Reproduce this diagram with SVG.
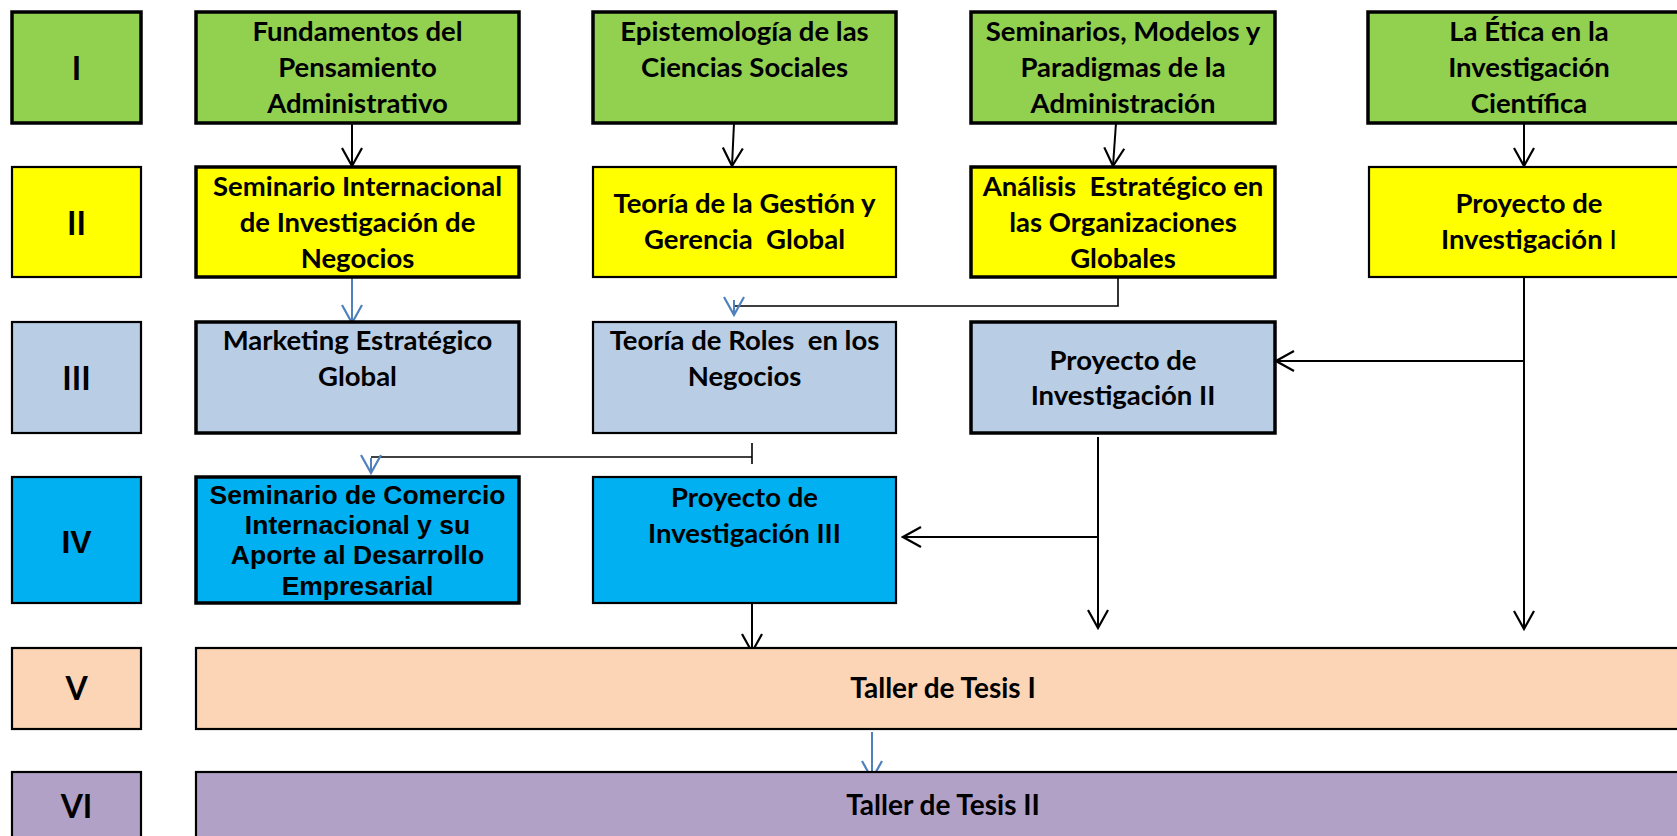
<svg xmlns="http://www.w3.org/2000/svg" width="1677" height="836" viewBox="0 0 1677 836">
<style>
  .box { stroke: #000; }
  .thick { stroke-width: 3.5; }
  .thin { stroke-width: 2.2; }
  .g1 { fill: #92D050; }
  .g2 { fill: #FFFF00; }
  .g3 { fill: #B9CDE5; }
  .g4 { fill: #00B0F0; }
  .g5 { fill: #FBD5B5; }
  .g6 { fill: #B2A1C7; }
  text { font-family: Lato, "Liberation Sans", sans-serif; font-weight: bold; fill: #000; text-anchor: middle; }
  .t { font-size: 27.5px; }
  .r { font-size: 32px; }
  .ar { font-family: "Liberation Sans", Arial, sans-serif; font-size: 26.5px; }
  .arr { font-family: "Liberation Sans", Arial, sans-serif; font-size: 32px; }
  .tl { font-size: 28px; }
  .c { fill: none; stroke: #000; stroke-width: 2; }
  .h { fill: none; stroke: #000; stroke-width: 1.6; }
  .b { fill: none; stroke: #4F81BD; stroke-width: 2; }
</style>
<defs>
  <marker id="ah" viewBox="-20 -12 22 24" refX="0" refY="0" markerWidth="22" markerHeight="24" markerUnits="userSpaceOnUse" orient="auto">
    <path d="M-18,-10 L0,0 L-18,10" fill="none" stroke="#000" stroke-width="2.2"/>
  </marker>
  <marker id="ahb" viewBox="-20 -12 22 24" refX="0" refY="0" markerWidth="22" markerHeight="24" markerUnits="userSpaceOnUse" orient="auto">
    <path d="M-18,-10 L0,0 L-18,10" fill="none" stroke="#4F81BD" stroke-width="2.2"/>
  </marker>
</defs>
<rect width="1677" height="836" fill="#fff"/>

<g id="connectors">
  <line class="c" x1="352" y1="123" x2="352" y2="166" marker-end="url(#ah)"/>
  <line class="c" x1="734" y1="123" x2="732" y2="166" marker-end="url(#ah)"/>
  <line class="c" x1="1116" y1="123" x2="1113" y2="166" marker-end="url(#ah)"/>
  <line class="c" x1="1524" y1="123" x2="1524" y2="166" marker-end="url(#ah)"/>
  <line class="b" x1="352" y1="278" x2="352" y2="323" marker-end="url(#ahb)"/>
  <path class="h" d="M1118,277 V306 H735"/>
  <line class="b" x1="734" y1="300" x2="734" y2="315" marker-end="url(#ahb)"/>
  <path class="c" d="M1524,277 V629" marker-end="url(#ah)"/>
  <path class="c" d="M1524,361 H1276" marker-end="url(#ah)"/>
  <line class="h" x1="752" y1="443" x2="752" y2="464"/>
  <line class="h" x1="752" y1="457" x2="371" y2="457"/>
  <line class="b" x1="371" y1="458" x2="371" y2="473" marker-end="url(#ahb)"/>
  <path class="c" d="M1098,437 V628" marker-end="url(#ah)"/>
  <path class="c" d="M1098,537 H903" marker-end="url(#ah)"/>
  <line class="c" x1="752" y1="604" x2="752" y2="652" marker-end="url(#ah)"/>
  <line class="b" x1="872" y1="732" x2="872" y2="779" marker-end="url(#ahb)"/>
</g>

<g id="sem-I">
  <rect class="box thick g1" x="12" y="12" width="129" height="111"/>
  <text class="r" x="76.5" y="80">I</text>
</g>
<g id="fundamentos">
  <rect class="box thick g1" x="196" y="12" width="323" height="111"/>
  <text class="t" x="357.5" y="41">Fundamentos del</text>
  <text class="t" x="357.5" y="77">Pensamiento</text>
  <text class="t" x="357.5" y="113">Administrativo</text>
</g>
<g id="epistemologia">
  <rect class="box thick g1" x="593" y="12" width="303" height="111"/>
  <text class="t" x="744.5" y="41">Epistemología de las</text>
  <text class="t" x="744.5" y="77">Ciencias Sociales</text>
</g>
<g id="seminarios-modelos">
  <rect class="box thick g1" x="971" y="12" width="304" height="111"/>
  <text class="t" x="1123" y="41">Seminarios, Modelos y</text>
  <text class="t" x="1123" y="77">Paradigmas de la</text>
  <text class="t" x="1123" y="113">Administración</text>
</g>
<g id="etica">
  <rect class="box thick g1" x="1368" y="12" width="330" height="111"/>
  <text class="t" x="1529" y="41">La Ética en la</text>
  <text class="t" x="1529" y="77">Investigación</text>
  <text class="t" x="1529" y="113">Científica</text>
</g>

<g id="sem-II">
  <rect class="box thin g2" x="12" y="167" width="129" height="110"/>
  <text class="r" x="76.5" y="235">II</text>
</g>
<g id="seminario-internacional">
  <rect class="box thick g2" x="196" y="167" width="323" height="110"/>
  <text class="t" x="357.5" y="196">Seminario Internacional</text>
  <text class="t" x="357.5" y="232">de Investigación de</text>
  <text class="t" x="357.5" y="268">Negocios</text>
</g>
<g id="teoria-gestion">
  <rect class="box thin g2" x="593" y="167" width="303" height="110"/>
  <text class="t" x="744.5" y="213" xml:space="preserve">Teoría de la Gestión y</text>
  <text class="t" x="744.5" y="249" xml:space="preserve">Gerencia  Global</text>
</g>
<g id="analisis">
  <rect class="box thick g2" x="971" y="167" width="304" height="110"/>
  <text class="t" x="1123" y="196" xml:space="preserve">Análisis  Estratégico en</text>
  <text class="t" x="1123" y="232">las Organizaciones</text>
  <text class="t" x="1123" y="268">Globales</text>
</g>
<g id="proyecto-I">
  <rect class="box thin g2" x="1369" y="167" width="330" height="110"/>
  <text class="t" x="1529" y="213">Proyecto de</text>
  <text class="t" x="1529" y="249">Investigación <tspan font-weight="normal">I</tspan></text>
</g>

<g id="sem-III">
  <rect class="box thin g3" x="12" y="322" width="129" height="111"/>
  <text class="r" x="76.5" y="390">III</text>
</g>
<g id="marketing">
  <rect class="box thick g3" x="196" y="322" width="323" height="111"/>
  <text class="t" x="357.5" y="350">Marketing Estratégico</text>
  <text class="t" x="357.5" y="386">Global</text>
</g>
<g id="teoria-roles">
  <rect class="box thin g3" x="593" y="322" width="303" height="111"/>
  <text class="t" x="744.5" y="350" xml:space="preserve">Teoría de Roles  en los</text>
  <text class="t" x="744.5" y="386">Negocios</text>
</g>
<g id="proyecto-II">
  <rect class="box thick g3" x="971" y="322" width="304" height="111"/>
  <text class="t" x="1123" y="370">Proyecto de</text>
  <text class="t" x="1123" y="405">Investigación II</text>
</g>

<g id="sem-IV">
  <rect class="box thin g4" x="12" y="477" width="129" height="126"/>
  <text class="arr" x="76.5" y="553">IV</text>
</g>
<g id="seminario-comercio">
  <rect class="box thick g4" x="196" y="477" width="323" height="126"/>
  <text class="ar" x="357.5" y="504">Seminario de Comercio</text>
  <text class="ar" x="357.5" y="534">Internacional y su</text>
  <text class="ar" x="357.5" y="564">Aporte al Desarrollo</text>
  <text class="ar" x="357.5" y="595">Empresarial</text>
</g>
<g id="proyecto-III">
  <rect class="box thin g4" x="593" y="477" width="303" height="126"/>
  <text class="t" x="744.5" y="507">Proyecto de</text>
  <text class="t" x="744.5" y="543">Investigación III</text>
</g>

<g id="sem-V">
  <rect class="box thin g5" x="12" y="648" width="129" height="81"/>
  <text class="r" x="76.5" y="700">V</text>
</g>
<g id="taller-I">
  <rect class="box thin g5" x="196" y="648" width="1500" height="81"/>
  <text class="tl" x="943" y="698">Taller de Tesis I</text>
</g>

<g id="sem-VI">
  <rect class="box thin g6" x="12" y="772" width="129" height="80"/>
  <text class="r" x="76.5" y="818">VI</text>
</g>
<g id="taller-II">
  <rect class="box thin g6" x="196" y="772" width="1500" height="80"/>
  <text class="tl" x="943" y="815">Taller de Tesis II</text>
</g>
</svg>
